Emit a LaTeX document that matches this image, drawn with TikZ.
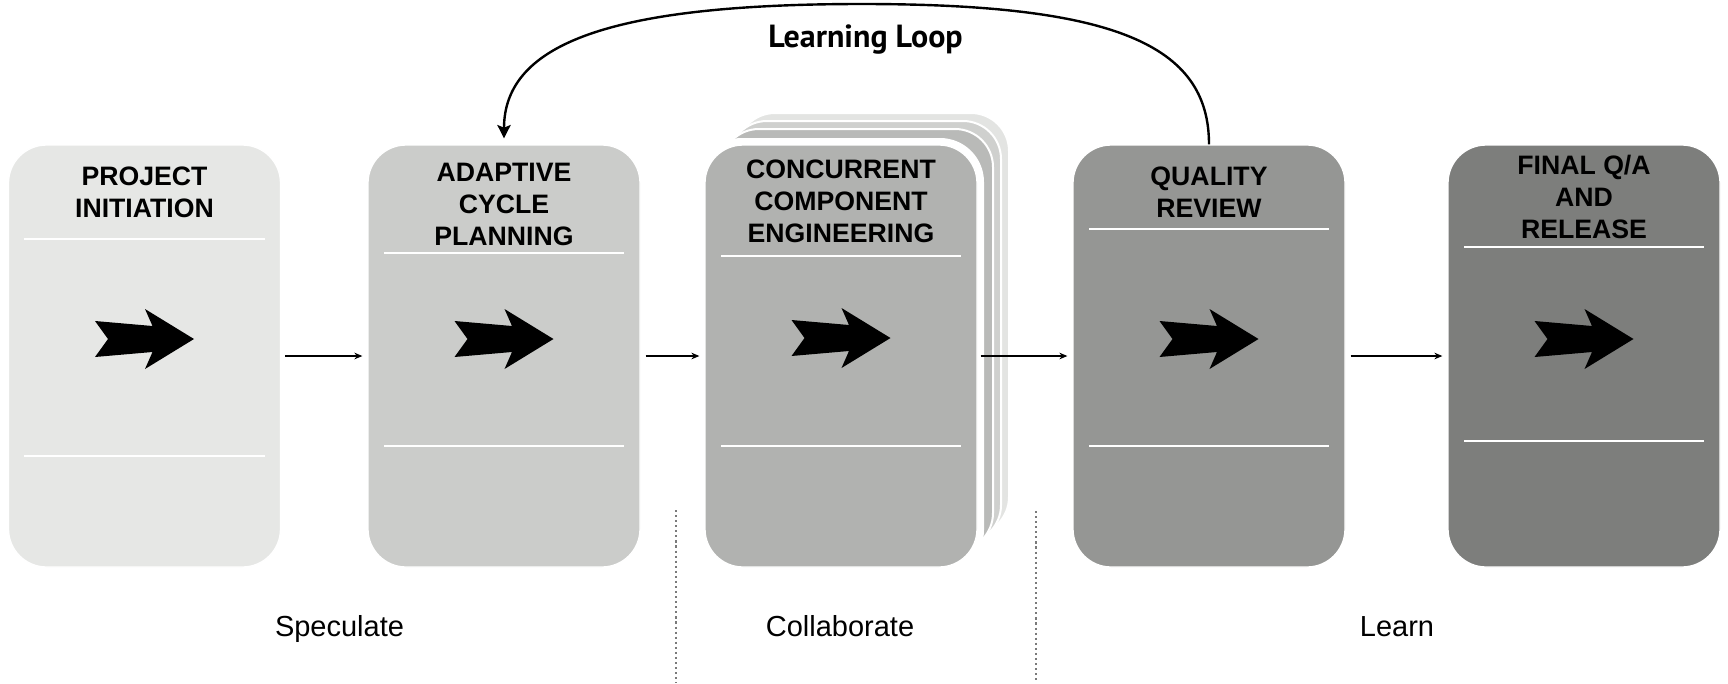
\documentclass[tikz,border=0pt]{standalone}
\usepackage{fontspec}
\setmainfont{Liberation Sans}
\newfontfamily\ptsans{PT Sans}
\usetikzlibrary{arrows.meta,calc}
\definecolor{cA}{HTML}{E6E7E5}
\definecolor{cB}{HTML}{CBCCCA}
\definecolor{cC}{HTML}{B1B2B0}
\definecolor{cD}{HTML}{959694}
\definecolor{cE}{HTML}{7D7E7C}
\definecolor{layA}{HTML}{B9BAB8}
\definecolor{layB}{HTML}{CFD0CE}
\definecolor{layC}{HTML}{E3E4E2}
\definecolor{dotgray}{HTML}{7A7A7A}
\tikzset{
  phase/.style={rectangle, rounded corners=28.5pt, minimum width=204pt, minimum height=316.5pt, inner sep=0pt, draw=white, line width=1pt},
  layer/.style={rounded corners=28.5pt, draw=white, line width=1.5pt},
  title/.style={anchor=base, align=center, font=\bfseries\fontsize{20pt}{23.8pt}\selectfont, inner sep=0pt},
  sepline/.style={draw=white, line width=1.2pt},
  flow/.style={draw=black, line width=0.8pt, -{Stealth[length=6pt,width=5pt]}},
  looparrow/.style={draw=black, line width=1.8pt, -{Stealth[length=10pt,width=10pt,inset=2pt]}},
  phaselabel/.style={anchor=base, font=\fontsize{21.75pt}{26pt}\selectfont, inner sep=0pt},
  divider/.style={draw=dotgray, line width=1.5pt, dash pattern=on 1.6pt off 2.2pt},
  bigarrow/.pic={\fill[black] (-49.5,-18) -- (8,-13) -- (0.5,-30) -- (49.5,0) -- (0.5,30) -- (8,13) -- (-49.5,18) -- (-36.5,0) -- cycle;}
}
\begin{document}
\begin{tikzpicture}[x=0.75pt,y=-0.75pt]
\useasboundingbox (0,0) rectangle (1728,683);
\fill[white] (0,0) rectangle (1728,683);

% stacked layers behind box 3
\fill[layC, layer] (737,113) rectangle (1009,535);
\fill[layB, layer] (729,121) rectangle (1001,543);
\fill[layA, layer] (721,129) rectangle (993,551);
\fill[white, rounded corners=33pt] (698,138) rectangle (984,574);

% boxes
\node[phase, fill=cA] (b1) at (144.5,356) {};
\node[phase, fill=cB] (b2) at (504,356) {};
\node[phase, fill=cC] (b3) at (841,356) {};
\node[phase, fill=cD] (b4) at (1209,356) {};
\node[phase, fill=cE] (b5) at (1584,356) {};

% titles (anchor = baseline of last line)
\node[title] (t1) at (144.5,217) {PROJECT\\INITIATION};
\node[title] (t2) at (504,245) {ADAPTIVE\\CYCLE\\PLANNING};
\node[title] (t3) at (841,242) {CONCURRENT\\COMPONENT\\ENGINEERING};
\node[title] (t4) at (1209,217) {QUALITY\\REVIEW};
\node[title] (t5) at (1584,238) {FINAL Q/A\\AND\\RELEASE};

% separator lines
\draw[sepline] (24,239) -- (265,239);
\draw[sepline] (24,456) -- (265,456);
\draw[sepline] (384,253) -- (624,253);
\draw[sepline] (384,446) -- (624,446);
\draw[sepline] (721,256) -- (961,256);
\draw[sepline] (721,446) -- (961,446);
\draw[sepline] (1089,229) -- (1329,229);
\draw[sepline] (1089,446) -- (1329,446);
\draw[sepline] (1464,247) -- (1704,247);
\draw[sepline] (1464,441) -- (1704,441);

% arrow icons
\pic at (144.5,339) {bigarrow};
\pic at (504,339) {bigarrow};
\pic at (841,338) {bigarrow};
\pic at (1209,339) {bigarrow};
\pic at (1584,339) {bigarrow};

% flow connectors
\draw[flow, shorten <=3pt, shorten >=3.75pt] (b1.east) -- (b2.west);
\draw[flow, shorten <=3.75pt, shorten >=3.75pt] (b2.east) -- (b3.west);
\draw[flow, shorten <=2.25pt, shorten >=3.75pt] (b3.east) -- (b4.west);
\draw[flow, shorten <=3.75pt, shorten >=3.75pt] (b4.east) -- (b5.west);

% learning loop
\coordinate (looptop) at (862,4);
\draw[looparrow, shorten >=4.5pt] (b4.north) .. controls (1209,45) and (1115,4) .. (looptop) .. controls (615,4) and (504,42) .. (b2.north);
\node[anchor=base, inner sep=0pt, font=\ptsans\bfseries\fontsize{24pt}{28pt}\selectfont] (ll) at (865.5,47) {Learning Loop};

% dividers
\coordinate (d1t) at (676,510);
\coordinate (d1b) at (676,683);
\coordinate (d2t) at (1036,511);
\coordinate (d2b) at (1036,683);
\draw[divider] (d1t) -- (d1b);
\draw[divider] (d2t) -- (d2b);

% phase labels
\node[phaselabel] (p1) at (339.5,636) {Speculate};
\node[phaselabel] (p2) at (840,636) {Collaborate};
\node[phaselabel] (p3) at (1397,636) {Learn};
\end{tikzpicture}
\end{document}
